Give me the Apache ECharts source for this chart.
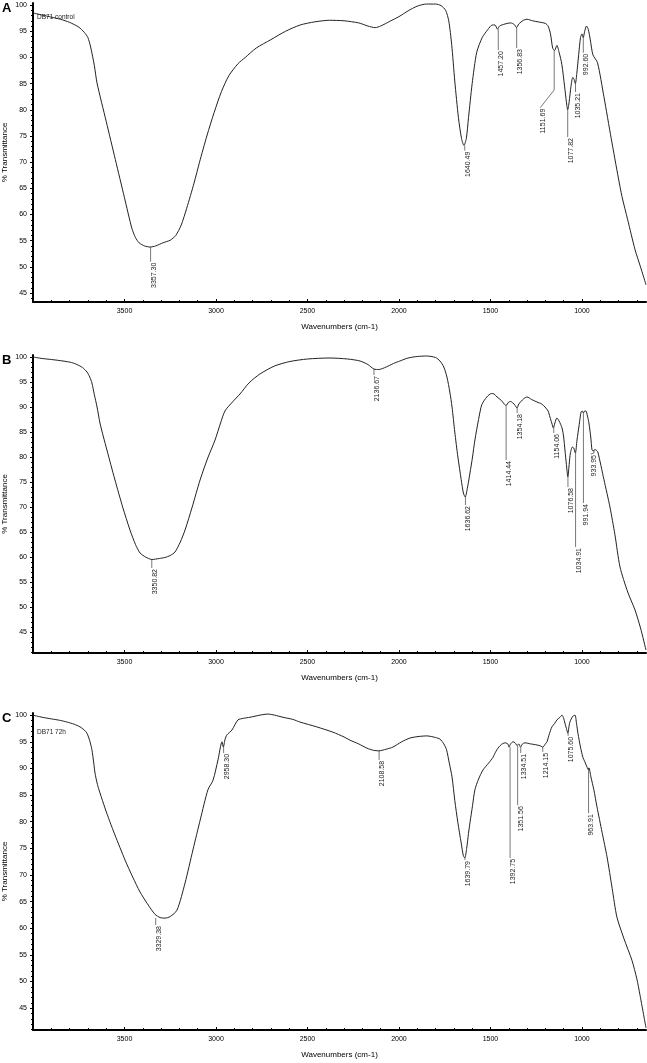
<!DOCTYPE html>
<html>
<head>
<meta charset="utf-8">
<script src="https://cdn.jsdelivr.net/npm/echarts@6/dist/echarts.min.js"></script>
<style>
  html, body { margin: 0; padding: 0; background: #fff; }
  #chart { width: 647px; height: 1063px; }
</style>
</head>
<body>
<div id="chart"></div>
<script>
// tick labels
const xTicks = [3500, 3000, 2500, 2000, 1500, 1000];
const yTicks = [45, 50, 55, 60, 65, 70, 75, 80, 85, 90, 95, 100];
const panelNames = ["A", "B", "C"];
const sampleNames = ["DB71 control", "", "DB71 72h"];

// spectra: [wavenumber, %T]
const spectrumA = [[4000, 98.5], [3950, 98.1], [3900, 97.7], [3850, 97.3], [3800, 96.7], [3750, 95.8], [3720, 94.8], [3700, 93.8], [3685, 92.0], [3665, 88.5], [3650, 85.1], [3600, 77.8], [3550, 70.5], [3500, 63.2], [3460, 57.4], [3440, 55.6], [3420, 54.6], [3390, 54.0], [3360, 53.8], [3330, 54.0], [3290, 54.6], [3250, 55.1], [3220, 56.0], [3190, 58.0], [3160, 61.2], [3120, 66.0], [3090, 70.0], [3050, 75.0], [3010, 79.5], [2970, 83.5], [2930, 86.5], [2880, 88.8], [2840, 90.0], [2780, 91.8], [2700, 93.4], [2620, 95.0], [2540, 96.2], [2460, 96.8], [2380, 97.1], [2300, 97.0], [2220, 96.6], [2170, 96.0], [2130, 95.7], [2100, 96.0], [2050, 96.9], [2000, 97.8], [1950, 98.9], [1900, 99.8], [1850, 100.2], [1800, 100.2], [1770, 99.9], [1745, 99.0], [1728, 97.0], [1712, 92.5], [1695, 85.5], [1675, 78.5], [1658, 74.5], [1645, 73.2], [1632, 74.5], [1620, 78.5], [1600, 85.0], [1575, 91.0], [1545, 93.8], [1515, 95.3], [1490, 96.2], [1475, 96.2], [1462, 95.4], [1450, 96.0], [1420, 96.4], [1390, 96.6], [1370, 96.3], [1358, 95.7], [1345, 96.4], [1320, 97.1], [1300, 97.3], [1270, 97.0], [1240, 96.8], [1200, 96.5], [1185, 96.0], [1172, 94.5], [1160, 91.8], [1150, 91.3], [1137, 92.3], [1125, 91.0], [1110, 88.7], [1095, 84.5], [1085, 81.5], [1078, 80.0], [1070, 81.5], [1060, 84.5], [1050, 86.2], [1043, 85.8], [1036, 85.0], [1028, 87.0], [1018, 90.5], [1008, 93.8], [1000, 94.5], [993, 93.8], [985, 95.0], [975, 96.0], [965, 95.3], [955, 93.5], [940, 90.5], [915, 89.0], [880, 82.5], [840, 74.5], [800, 66.8], [781, 63.4], [750, 59.0], [710, 53.3], [680, 50.0], [650, 46.6]];
const spectrumB = [[4000, 100.0], [3950, 99.7], [3900, 99.5], [3836, 99.2], [3790, 98.9], [3760, 98.5], [3730, 97.9], [3705, 97.0], [3690, 96.0], [3678, 94.8], [3665, 92.5], [3650, 90.0], [3634, 86.8], [3615, 84.0], [3596, 81.4], [3575, 78.5], [3552, 75.4], [3510, 70.0], [3470, 65.4], [3440, 62.5], [3415, 60.8], [3385, 60.0], [3350, 59.5], [3310, 59.7], [3279, 59.9], [3250, 60.3], [3224, 61.0], [3195, 63.0], [3169, 65.4], [3130, 70.0], [3087, 75.4], [3045, 79.8], [3005, 83.4], [2975, 86.8], [2951, 89.2], [2910, 91.0], [2869, 92.6], [2820, 94.8], [2760, 96.6], [2680, 98.2], [2596, 99.1], [2500, 99.6], [2377, 99.8], [2280, 99.6], [2213, 99.2], [2170, 98.5], [2137, 97.6], [2110, 97.5], [2070, 98.0], [2030, 98.7], [1995, 99.2], [1950, 99.8], [1900, 100.1], [1850, 100.2], [1800, 99.9], [1776, 99.2], [1755, 98.0], [1738, 96.0], [1722, 93.0], [1710, 90.0], [1695, 85.0], [1678, 80.0], [1660, 75.5], [1648, 72.8], [1638, 72.0], [1625, 74.0], [1612, 76.8], [1598, 80.0], [1585, 83.4], [1565, 87.5], [1547, 90.5], [1520, 92.0], [1495, 92.7], [1480, 92.6], [1464, 92.0], [1440, 91.3], [1425, 90.6], [1415, 90.3], [1400, 91.0], [1390, 91.1], [1377, 90.8], [1365, 90.3], [1355, 89.8], [1345, 90.6], [1320, 91.6], [1300, 92.0], [1275, 91.5], [1246, 91.0], [1220, 90.6], [1202, 90.0], [1185, 89.2], [1175, 88.0], [1165, 86.8], [1156, 85.8], [1148, 86.8], [1137, 87.8], [1125, 87.2], [1109, 85.8], [1100, 84.0], [1093, 81.4], [1085, 78.5], [1077, 76.0], [1070, 78.5], [1063, 80.8], [1052, 82.0], [1045, 81.8], [1036, 80.8], [1027, 83.4], [1015, 86.5], [1005, 89.0], [998, 89.2], [992, 88.8], [985, 89.2], [978, 89.2], [970, 88.2], [962, 86.8], [952, 84.0], [945, 81.4], [938, 81.2], [930, 81.5], [920, 81.3], [913, 81.0], [880, 75.5], [847, 70.0], [820, 64.5], [792, 58.0], [750, 53.0], [710, 49.4], [680, 45.8], [650, 41.4]];
const spectrumC = [[4000, 100.0], [3950, 99.6], [3900, 99.3], [3850, 99.0], [3814, 98.7], [3775, 98.3], [3743, 97.8], [3720, 97.2], [3705, 96.6], [3690, 95.2], [3678, 93.5], [3668, 91.0], [3661, 89.1], [3648, 87.0], [3634, 85.4], [3607, 82.6], [3580, 80.0], [3552, 77.5], [3497, 72.8], [3455, 69.6], [3415, 66.8], [3375, 64.6], [3333, 62.6], [3305, 62.0], [3279, 61.9], [3250, 62.2], [3213, 63.4], [3169, 68.5], [3126, 74.7], [3085, 80.5], [3044, 86.0], [3016, 87.8], [2989, 91.6], [2967, 95.0], [2960, 94.0], [2950, 95.5], [2940, 96.3], [2913, 97.2], [2880, 99.1], [2850, 99.4], [2814, 99.6], [2760, 100.0], [2716, 100.2], [2680, 100.0], [2634, 99.6], [2580, 99.2], [2541, 98.7], [2450, 97.8], [2361, 96.8], [2300, 95.9], [2268, 95.3], [2220, 94.6], [2175, 93.8], [2140, 93.4], [2110, 93.3], [2070, 93.6], [2033, 94.0], [1985, 95.0], [1940, 95.7], [1890, 96.0], [1847, 96.1], [1800, 95.8], [1776, 95.5], [1755, 94.6], [1740, 93.5], [1725, 91.0], [1710, 88.4], [1695, 84.0], [1678, 79.8], [1660, 76.0], [1648, 73.6], [1640, 73.2], [1630, 75.0], [1620, 77.8], [1612, 79.8], [1598, 83.0], [1585, 86.0], [1565, 88.0], [1541, 89.7], [1510, 91.0], [1486, 92.1], [1470, 93.2], [1459, 93.8], [1440, 94.5], [1421, 94.8], [1405, 94.6], [1399, 94.0], [1390, 94.6], [1377, 95.0], [1365, 94.8], [1355, 94.3], [1345, 94.6], [1336, 94.0], [1325, 94.6], [1312, 94.8], [1280, 94.6], [1246, 94.4], [1225, 94.2], [1214, 94.0], [1200, 94.6], [1191, 95.0], [1178, 96.5], [1164, 97.8], [1150, 98.4], [1137, 99.1], [1120, 99.6], [1109, 100.0], [1100, 99.4], [1093, 98.5], [1085, 97.5], [1077, 96.6], [1072, 97.6], [1066, 98.7], [1050, 99.8], [1038, 100.0], [1030, 98.5], [1022, 96.6], [1008, 94.0], [995, 92.1], [985, 91.3], [973, 90.3], [966, 89.8], [962, 90.1], [951, 88.4], [935, 86.0], [918, 82.8], [890, 78.0], [863, 73.4], [835, 67.5], [809, 62.1], [770, 58.0], [727, 54.0], [700, 50.5], [683, 47.5], [650, 41.3]];

// peak picks: wavenumber, %T where the leader starts, %T where it ends
const peaksA = [3357.30, 1640.49, 1457.20, 1356.83, 1151.69, 1077.82, 1035.21, 992.60];
const peakTopA = [53.8, 73.2, 95.4, 95.7, 91.3, 80.0, 85.0, 93.8];
const peakEndA = [51.0, 72.2, 91.4, 91.8, 83.8, 74.8, 83.4, 90.9];
const labelAtA = [3357.30, 1640.49, 1457.20, 1356.83, 1228, 1077.82, 1035.21, 992.60];
const labelTopA = [51.0, 72.2, 91.4, 91.8, 80.4, 74.8, 83.4, 90.9];

const peaksB = [3350.82, 2136.67, 1636.62, 1414.44, 1354.18, 1154.06, 1076.58, 1034.91, 991.94, 933.95];
const peakTopB = [59.5, 97.6, 72.0, 90.3, 89.8, 85.8, 76.0, 80.8, 88.8, 81.4];
const peakEndB = [57.8, 96.4, 70.4, 79.4, 88.8, 84.8, 74.0, 62.0, 70.8, 80.8];
const labelAtB = [3350.82, 2136.67, 1636.62, 1414.44, 1354.18, 1154.06, 1076.58, 1034.91, 991.94, 952];
const labelTopB = [57.8, 96.4, 70.4, 79.4, 88.8, 84.8, 74.0, 62.0, 70.8, 80.6];

const peaksC = [3329.38, 2958.30, 2108.58, 1639.79, 1392.75, 1351.56, 1334.51, 1214.15, 1075.60, 963.91];
const peakTopC = [61.9, 94.0, 93.3, 73.2, 94.0, 94.3, 94.0, 94.0, 96.6, 90.1];
const peakEndC = [60.6, 92.9, 91.6, 72.8, 73.2, 83.1, 92.9, 93.1, 96.1, 81.6];
const labelAtC = peaksC;
const labelTopC = peakEndC;

const yRange = [[43.3, 100.4], [40.8, 100.4], [40.9, 100.4]];

const font = '"Liberation Sans Narrow", "Liberation Sans", Arial, sans-serif';
const grids = [
  { left: 33, top: 3, width: 613, height: 299, containLabel: false, outerBoundsMode: "none" },
  { left: 33, top: 355, width: 613, height: 298, containLabel: false, outerBoundsMode: "none" },
  { left: 33, top: 713, width: 613, height: 317, containLabel: false, outerBoundsMode: "none" },
];

var xMinor = [];
for (let w = 700; w <= 3900; w += 100) xMinor.push(w);

function peakSeries(i, waves, tops, ends, labW, labV) {
  const data = waves.map((w, k) => [w, tops[k], ends[k], labW[k], labV[k]]);
  return {
    type: "custom",
    xAxisIndex: i * 2,
    yAxisIndex: i * 2,
    data: data,
    silent: true,
    z: 3,
    renderItem(params, api) {
      const w = api.value(0);
      const p0 = api.coord([w, api.value(1)]);
      const p1 = api.coord([w, api.value(2)]);
      const p2 = api.coord([api.value(3), api.value(4)]);
      return {
        type: "group",
        children: [
          {
            type: "polyline",
            shape: { points: [p0, p1, p2] },
            style: { stroke: "#555", lineWidth: 0.8, fill: null },
          },
          {
            type: "text",
            x: p2[0] + 3,
            y: p2[1] + 1,
            rotation: Math.PI / 2,
            style: {
              text: w.toFixed(2),
              align: "right",
              verticalAlign: "middle",
              font: "7px " + font,
              fill: "#222",
            },
          },
        ],
      };
    },
  };
}

const spectra = [spectrumA, spectrumB, spectrumC];
const peakSets = [
  [peaksA, peakTopA, peakEndA, labelAtA, labelTopA],
  [peaksB, peakTopB, peakEndB, labelAtB, labelTopB],
  [peaksC, peakTopC, peakEndC, labelAtC, labelTopC],
];

var xAxis = [], yAxis = [], series = [], graphic = [];
grids.forEach((g, i) => {
  xAxis.push({
    type: "value", gridIndex: i, min: 650, max: 4000, inverse: true, position: "bottom",
    axisLine: { show: true, onZero: false, lineStyle: { color: "#000", width: 2 } },
    axisTick: { show: true, inside: true, length: 3, customValues: xTicks, lineStyle: { color: "#000" } },
    axisLabel: { customValues: xTicks, formatter: (v) => String(v), fontSize: 7, color: "#000", margin: 6, fontFamily: font },
    splitLine: { show: false },
    name: "Wavenumbers (cm-1)", nameLocation: "middle", nameGap: 21,
    nameTextStyle: { fontSize: 8, color: "#000", fontFamily: font },
  });
  xAxis.push({
    type: "value", gridIndex: i, min: 650, max: 4000, inverse: true, position: "bottom",
    axisLine: { show: false },
    axisTick: { show: true, inside: true, length: 2, customValues: xMinor, lineStyle: { color: "#000" } },
    axisLabel: { show: false },
    splitLine: { show: false },
  });
  var yMinor = [];
  for (let v = Math.ceil(yRange[i][0]); v <= 100; v++) yMinor.push(v);
  yAxis.push({
    type: "value", gridIndex: i, min: yRange[i][0], max: yRange[i][1], position: "left",
    axisLine: { show: true, onZero: false, lineStyle: { color: "#000", width: 2 } },
    axisTick: { show: true, length: 3, customValues: yTicks, lineStyle: { color: "#000" } },
    axisLabel: { customValues: yTicks, formatter: (v) => String(v), fontSize: 7, color: "#000", margin: 6, fontFamily: font },
    splitLine: { show: false },
    name: "% Transmittance", nameLocation: "middle", nameGap: 24, nameRotate: 90,
    nameMoveOverlap: false,
    nameTextStyle: { fontSize: 8, color: "#000", fontFamily: font },
  });
  yAxis.push({
    type: "value", gridIndex: i, min: yRange[i][0], max: yRange[i][1], position: "left",
    axisLine: { show: false },
    axisTick: { show: true, length: 2, customValues: yMinor, lineStyle: { color: "#000" } },
    axisLabel: { show: false },
    splitLine: { show: false },
  });
  series.push({
    type: "line", xAxisIndex: i * 2, yAxisIndex: i * 2, data: spectra[i],
    showSymbol: false, smooth: 0.25, silent: true,
    lineStyle: { color: "#222", width: 1 },
  });
  series.push(peakSeries(i, ...peakSets[i]));
  graphic.push({
    type: "text", left: 2, top: g.top - 1,
    style: { text: panelNames[i], font: "bold 13px 'Liberation Sans', Arial", fill: "#000" },
  });
  if (sampleNames[i]) {
    graphic.push({
      type: "text", left: 37, top: g.top + (i == 0 ? 11 : 16),
      style: { text: sampleNames[i], font: "6.5px " + font, fill: "#222" },
    });
  }
});

let myChart = echarts.init(document.getElementById("chart"));
let option = {
  animation: false,
  backgroundColor: "#fff",
  grid: grids,
  xAxis: xAxis,
  yAxis: yAxis,
  series: series,
  graphic: graphic,
};
option && myChart.setOption(option);
</script>
</body>
</html>
